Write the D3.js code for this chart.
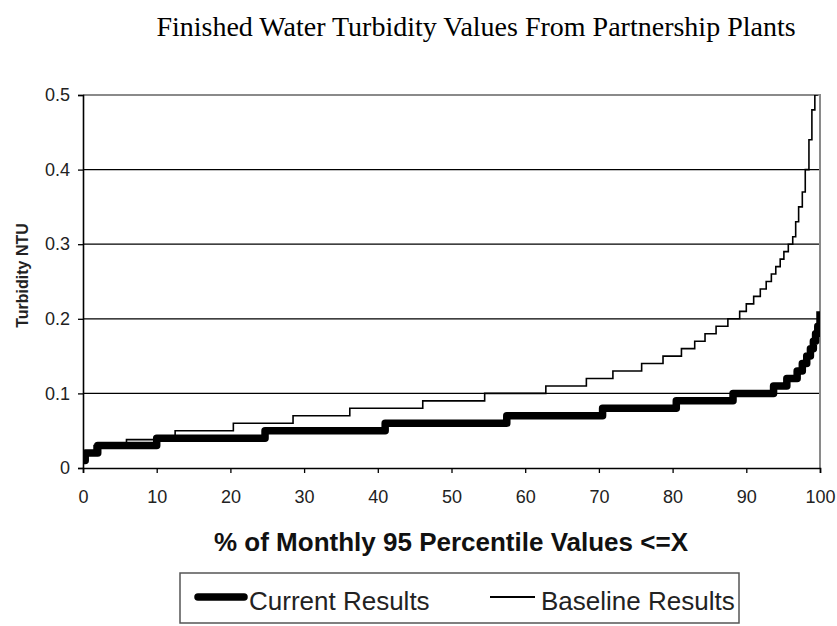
<!DOCTYPE html>
<html>
<head>
<meta charset="utf-8">
<script src="https://cdn.jsdelivr.net/npm/d3@7"></script>
<style>
  body { margin: 0; background: #fff; }
  svg { display: block; }
</style>
</head>
<body>
<svg id="chart" width="837" height="626"></svg>
<script>
(() => {
    'use strict';

    // step breakpoints (% of values <= X, turbidity NTU)
    const currentPct = [0, 0.3, 2.0, 10.0, 24.7, 41.0, 57.5, 70.5, 80.5, 88.2, 93.7, 95.5, 96.9, 97.6, 98.2, 98.7, 99.1, 99.4, 99.7, 100];
    const currentNtu = [0.01, 0.02, 0.03, 0.04, 0.05, 0.06, 0.07, 0.08, 0.09, 0.10, 0.11, 0.12, 0.13, 0.14, 0.15, 0.16, 0.17, 0.18, 0.19, 0.21];

    const baselinePct = [0, 1.5, 5.9, 12.5, 20.4, 28.5, 36.2, 46.1, 54.5, 62.8, 68.3, 71.9, 75.8, 78.7, 81.2, 83.0, 84.4, 85.9, 87.5, 89.1, 90.0, 91.0, 91.9, 92.7, 93.4, 94.0, 94.6, 95.1, 95.7, 96.3, 96.7, 97.1, 97.6, 98.0, 98.5, 98.9, 99.3, 99.6];
    const baselineNtu = [0.022, 0.03, 0.038, 0.05, 0.06, 0.07, 0.08, 0.09, 0.10, 0.11, 0.12, 0.13, 0.14, 0.15, 0.16, 0.17, 0.18, 0.19, 0.20, 0.21, 0.22, 0.23, 0.24, 0.25, 0.26, 0.27, 0.28, 0.29, 0.30, 0.31, 0.33, 0.35, 0.37, 0.40, 0.44, 0.48, 0.50, 0.53];

    const xTicks = [0, 10, 20, 30, 40, 50, 60, 70, 80, 90, 100];
    const yTicks = [0, 0.1, 0.2, 0.3, 0.4, 0.5];

    const seriesNames = ['Current Results', 'Baseline Results'];

    const margin = { top: 95, right: 17, bottom: 158, left: 83 },
          width = 837,
          height = 626,
          plotW = width - margin.left - margin.right,
          plotH = height - margin.top - margin.bottom;

    const x = d3.scaleLinear().domain([0, 100]).range([margin.left, margin.left + plotW]),
          y = d3.scaleLinear().domain([0, 0.5]).range([margin.top + plotH, margin.top]);

    const svg = d3.select('#chart');

    svg.append('defs').append('clipPath')
        .attr('id', 'plot-clip')
        .append('rect')
        .attr('x', x(0))
        .attr('y', y(0.5))
        .attr('width', x(100) - x(0))
        .attr('height', y(0) - y(0.5));

    // title
    svg.append('text')
        .attr('x', 476)
        .attr('y', 36)
        .attr('text-anchor', 'middle')
        .attr('font-family', '"Liberation Serif", "Times New Roman", serif')
        .attr('font-size', 28)
        .attr('fill', '#000')
        .text('Finished Water Turbidity Values From Partnership Plants');

    // grid lines
    svg.append('g')
        .selectAll('line')
        .data(yTicks.filter(d => d > 0 && d < 0.5))
        .enter()
        .append('line')
        .attr('x1', x(0))
        .attr('x2', x(100))
        .attr('y1', d => y(d))
        .attr('y2', d => y(d))
        .attr('stroke', '#000')
        .attr('stroke-width', 1.2);

    // frame top / right (grey)
    svg.append('path')
        .attr('d', `M${x(0)},${y(0.5)}H${x(100)}V${y(0)}`)
        .attr('fill', 'none')
        .attr('stroke', '#8a8a8a')
        .attr('stroke-width', 2);

    const line = d3.line()
        .x(d => x(d[0]))
        .y(d => y(d[1]))
        .curve(d3.curveStepAfter);

    const plot = svg.append('g').attr('clip-path', 'url(#plot-clip)');

    plot.append('path')
        .datum(baselinePct.map((p, i) => [p, baselineNtu[i]]))
        .attr('d', line)
        .attr('fill', 'none')
        .attr('stroke', '#000')
        .attr('stroke-width', 1.6);

    plot.append('path')
        .datum(currentPct.map((p, i) => [p, currentNtu[i]]))
        .attr('d', line)
        .attr('fill', 'none')
        .attr('stroke', '#000')
        .attr('stroke-width', 7.5)
        .attr('stroke-linejoin', 'round');

    // axes
    const yAxis = d3.axisLeft(y)
        .tickValues(yTicks)
        .tickSize(5)
        .tickPadding(8)
        .tickFormat(d => d === 0 ? '0' : d.toFixed(1));

    const xAxis = d3.axisBottom(x)
        .tickValues(xTicks)
        .tickSize(5)
        .tickPadding(17)
        .tickFormat(d3.format('d'));

    const gy = svg.append('g')
        .attr('transform', `translate(${x(0)},0)`)
        .call(yAxis);

    const gx = svg.append('g')
        .attr('transform', `translate(0,${y(0)})`)
        .call(xAxis);

    [gx, gy].forEach(g => {
        g.select('.domain').attr('stroke', '#000').attr('stroke-width', 1.6);
        g.selectAll('.tick line').attr('stroke', '#000').attr('stroke-width', 1.3);
        g.selectAll('.tick text')
            .attr('font-family', '"Liberation Sans", Arial, sans-serif')
            .attr('font-size', 18)
            .attr('fill', '#222');
    });

    // axis titles
    svg.append('text')
        .attr('transform', `translate(28,${(y(0) + y(0.5)) / 2 - 6}) rotate(-90)`)
        .attr('text-anchor', 'middle')
        .attr('font-family', '"Liberation Sans", Arial, sans-serif')
        .attr('font-weight', 'bold')
        .attr('font-size', 16)
        .attr('fill', '#222')
        .text('Turbidity NTU');

    svg.append('text')
        .attr('x', 451)
        .attr('y', 551)
        .attr('text-anchor', 'middle')
        .attr('font-family', '"Liberation Sans", Arial, sans-serif')
        .attr('font-weight', 'bold')
        .attr('font-size', 26)
        .attr('fill', '#111')
        .text('% of Monthly 95 Percentile Values <=X');

    // legend
    const legend = svg.append('g');

    legend.append('rect')
        .attr('x', 180)
        .attr('y', 573)
        .attr('width', 559)
        .attr('height', 50)
        .attr('fill', 'none')
        .attr('stroke', '#555')
        .attr('stroke-width', 1.5);

    const legendItems = [
        { name: seriesNames[0], x1: 198, x2: 244, tx: 249, w: 7.5 },
        { name: seriesNames[1], x1: 490, x2: 535, tx: 541, w: 1.8 }
    ];

    const items = legend.selectAll('g.item')
        .data(legendItems)
        .enter()
        .append('g')
        .attr('class', 'item');

    items.append('line')
        .attr('x1', d => d.x1)
        .attr('x2', d => d.x2)
        .attr('y1', 597)
        .attr('y2', 597)
        .attr('stroke', '#000')
        .attr('stroke-width', d => d.w)
        .attr('stroke-linecap', d => d.w > 3 ? 'round' : 'butt');

    items.append('text')
        .attr('x', d => d.tx)
        .attr('y', 610)
        .attr('font-family', '"Liberation Sans", Arial, sans-serif')
        .attr('font-size', 26)
        .attr('fill', '#222')
        .text(d => d.name);
})();
</script>
</body>
</html>
